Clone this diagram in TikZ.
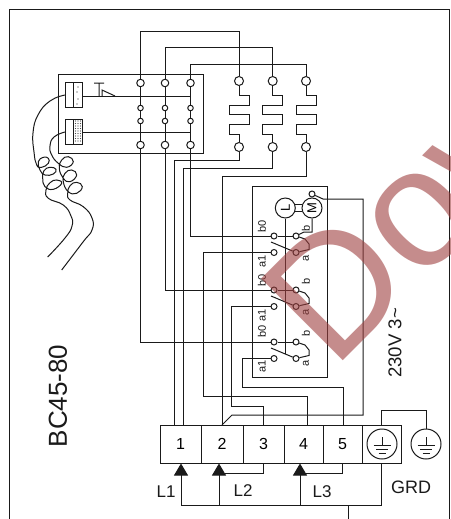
\documentclass[tikz,border=0pt]{standalone}
\usepackage{xcolor}
\usepackage{fontspec}
\setmainfont{Liberation Sans}
\usepackage{tikz}
\usetikzlibrary{calc}
\usetikzlibrary{arrows.meta}
\usetikzlibrary{positioning}
\definecolor{wire}{HTML}{1A1A1A}
\definecolor{stamp}{HTML}{9E3F3F}
\tikzset{>=latex}
\tikzstyle{bigpin} = [draw = wire, circle, fill = white, inner sep = 0, minimum size = 7.5]
\tikzstyle{smallpin} = [draw = wire, circle, fill = white, inner sep = 0, minimum size = 5.5]
\tikzstyle{termbox} = [draw = wire, inner sep = 0, minimum height = 38, font = \fontsize{16}{18}\selectfont]
\tikzstyle{lbl} = [draw = none, inner sep = 0, font = \fontsize{11}{12}\selectfont, rotate = 90, text = wire]
\tikzstyle{biglbl} = [draw = none, inner sep = 0, font = \fontsize{17}{19}\selectfont, text = wire]
\tikzstyle{roundnode} = [draw = wire, circle, inner sep = 0, minimum size = 20, font = \fontsize{13}{14}\selectfont]
\tikzstyle{gndnode} = [draw = wire, circle, inner sep = 0, minimum size = 30]
\begin{document}
\begin{tikzpicture}[x = 1pt, y = -1pt, line width = 1pt, draw = wire]
\useasboundingbox (0, 0) rectangle (450, 519);
\coordinate (fa) at (9, 519);
\coordinate (fb) at (9, 10);
\coordinate (fc) at (449, 10);
\coordinate (fd) at (449, 519);
\draw (fa) -- (fb) -- (fc) -- (fd);

% thermal unit
\node [draw, minimum width = 145, minimum height = 79, inner sep = 0] (unit) at (130.5, 113.5) {};
\node [draw, fill = white, minimum width = 17, minimum height = 25, inner sep = 0] (h1) at (74, 94.5) {};
\node [draw, fill = white, minimum width = 17, minimum height = 25, inner sep = 0] (h2) at (74, 131.5) {};
\draw (73, 82) -- (73, 107) (73, 119) -- (73, 144);
\foreach \p in {(78, 87), (77, 92), (78, 99), (77, 104)}
  \fill [wire] \p circle (0.6);
\foreach \x in {75.5, 78, 80.5}
  \foreach \y in {121, 123.5, ..., 143}
    \fill [wire!80] (\x, \y) circle (0.7);
\coordinate (w1) at (82.5, 96);
\coordinate (w2) at (82.5, 132);
\coordinate (v1) at (190.5, 96);
\coordinate (v2) at (190.5, 132);
\draw (w1) -- (v1);
\draw (w2) -- (v2);
\draw (94, 83) -- (104, 83) (99, 83) -- (99, 96) (102, 96) -- (102, 90) -- (115, 96);

\foreach \c/\x in {1/140.5, 2/165, 3/190.5} {
  \node [bigpin] (a\c) at (\x, 83) {};
  \node [smallpin] (b\c) at (\x, 108) {};
  \node [smallpin] (c\c) at (\x, 121) {};
  \node [bigpin] (d\c) at (\x, 145) {};
  \draw (a\c) -- (b\c) -- (c\c) -- (d\c);
}

% coils
\foreach \c/\x in {1/239, 2/272.7, 3/306} {
  \node [bigpin, minimum size = 9] (e\c) at (\x, 81) {};
  \node [bigpin, minimum size = 9] (f\c) at (\x, 147) {};
  \draw (e\c) -- ++(0, 14) -- ++(10, 0) -- ++(0, 10) -- ++(-20, 0) -- ++(0, 9) -- ++(20, 0) -- ++(0, 10) -- ++(-20, 0) -- ++(0, 10) -- ++(10, 0) -- (f\c);
}
\draw (a1) -- ++(0, -51) -| (e1);
\draw (a2) -- ++(0, -35) -| (e2);
\draw (a3) -- ++(0, -18) -| (e3);

% capillaries
\draw plot [smooth, tension = 0.8] coordinates {(65, 95) (50, 101) (38, 115) (33, 133) (34, 152) (36.7, 165) (41.7, 167.3) (48.3, 163.3) (48.3, 158.3) (43.3, 157.3) (38.3, 161.7) (40, 170) (45, 175) (53.3, 174) (56, 169.3) (50, 167.3) (44, 170.7) (42.7, 178.3) (45, 186.7) (53.3, 189.3) (61.7, 183.3) (56.7, 180) (50, 182.7) (46, 190) (48.3, 198.3) (63.3, 205) (71, 216) (72, 226) (65, 238) (47.7, 257)};
\draw plot [smooth, tension = 0.8] coordinates {(65, 132) (54, 137) (50, 146) (51.7, 155) (58.3, 163.3) (66.7, 167.3) (73.3, 161.7) (68.3, 156.7) (61.7, 160) (59.3, 168.3) (63.3, 178.3) (70, 181.7) (76.7, 175) (71.7, 170) (65, 173.3) (63.3, 181.7) (68.3, 191.7) (76.7, 193.3) (82.3, 186.7) (76.7, 182.3) (70, 185.7) (67.7, 193.3) (70, 200) (83.3, 206.7) (92, 218) (92, 230) (83, 242) (61.7, 270)};

% switch box
\node [draw, minimum width = 75, minimum height = 191, inner sep = 0] (swbox) at (289.5, 281.5) {};
\node [roundnode] (lamp) at (285.3, 208) {\rotatebox{90}{L}};
\node [roundnode] (motor) at (312, 208) {\rotatebox{90}{M}};
\node [smallpin, minimum size = 6] (mtop) at (312, 194) {};
\draw (lamp.18) -- (motor.162);
\draw (lamp.-18) -- (motor.-162);
\foreach \s/\y in {1/236, 2/290, 3/342} {
  \node [smallpin, minimum size = 6] (s\s b0) at (274, \y) {};
  \node [smallpin, minimum size = 6] (s\s a1) at (274, \y + 16.5) {};
  \node [smallpin, minimum size = 6] (s\s b) at (296, \y) {};
  \node [smallpin, minimum size = 6] (s\s a) at (296, \y + 16.5) {};
  \coordinate (s\s t) at (271, \y + 6);
  \draw (s\s b0) -- (s\s b);
  \draw (s\s t) -- (s\s a);
  \draw (s\s b) -- ++(9, 3) -- ++(4, 5) -- ++(0, 5.5) -- (s\s a);
}
\coordinate (lampend) at (285.3, 354);
\draw (lamp) -- (lampend);
\draw (motor) -- ++(0, 24) -- ++(-8, 0) -- (s1b);

\node [lbl] (t1) at (262, 226) {b0};
\node [lbl] (t2) at (262, 261) {a1};
\node [lbl] (t3) at (262, 280) {b0};
\node [lbl] (t4) at (262, 315) {a1};
\node [lbl] (t5) at (262, 331) {b0};
\node [lbl] (t6) at (262, 366) {a1};
\node [lbl] (t7) at (306, 228) {b};
\node [lbl] (t8) at (306, 258) {a};
\node [lbl] (t9) at (306, 281) {b};
\node [lbl] (t10) at (306, 312) {a};
\node [lbl] (t11) at (306, 333) {b};
\node [lbl] (t12) at (306, 363) {a};

% terminal block
\node [termbox, minimum width = 41] (k1) at (180.5, 444) {1};
\node [termbox, minimum width = 42] (k2) at (222, 444) {2};
\node [termbox, minimum width = 41] (k3) at (263.5, 444) {3};
\node [termbox, minimum width = 39] (k4) at (303.5, 444) {4};
\node [termbox, minimum width = 39] (k5) at (342.5, 444) {5};
\node [termbox, minimum width = 39] (k6) at (381.5, 444) {};
\node [gndnode] (g1) at (382, 444) {};
\node [gndnode] (g2) at (426, 444) {};
\foreach \g in {g1, g2}
  \draw [shift = {(\g)}] (0, -7) -- (0, 1) (-8.5, 1) -- (8.5, 1) (-6, 5) -- (6, 5) (-3.5, 9) -- (3.5, 9);
\draw (k6.north) -- ++(0, -14) -| (g2);

\coordinate (p1) at (174, 425);
\coordinate (p2) at (183, 425);
\coordinate (p3) at (222, 425);
\coordinate (p4) at (263, 425);
\coordinate (p5) at (307, 425);
\coordinate (p6) at (343, 425);
\coordinate (p7) at (232, 415);
\draw (f1) -- ++(0, 13.7) -| (p1);
\draw (f2) -- ++(0, 21) -| (p2);
\draw (f3) -- ++(0, 29) -| (p3);
\draw (d1) |- (s3b0);
\draw (d2) |- (s2b0);
\draw (d3) |- (s1b0);
\draw (s1a1) -- ++(-71, 0) |- ++(104, 144) -- (p5);
\draw (s2a1) -- ++(-43, 0) |- ++(32, 100) -- (p4);
\draw (s3a1) -- ++(-32, 0) |- ++(101, 29) -- (p6);
\draw (mtop) -- ++(11, 5) -- ++(40, 0) |- (p7) -- (p3);

% supply
\coordinate (q1) at (181, 463.5);
\coordinate (q2) at (219, 463.5);
\coordinate (q3) at (300, 463.5);
\coordinate (r1) at (181, 505);
\coordinate (r2) at (219, 505);
\coordinate (r3) at (300, 505);
\coordinate (r4) at (348, 505);
\coordinate (r5) at (348, 519);
\coordinate (l2) at (219, 473);
\coordinate (l3) at (300, 473);
\draw [-{Triangle[length = 12, width = 14]}] (r1) -- (q1);
\draw [-{Triangle[length = 12, width = 14]}] (r2) -- (q2);
\draw [-{Triangle[length = 12, width = 14]}] (r3) -- (q3);
\draw (r1) -| (k6.south);
\draw (r4) -- (r5);
\draw (l2) -| (k3.south);
\draw (l3) -| (k5.south);

\node [biglbl] (n1) at (166, 492) {L1};
\node [biglbl] (n2) at (243, 491) {L2};
\node [biglbl] (n3) at (322, 492) {L3};
\node [biglbl, font = \fontsize{18}{20}\selectfont] (n4) at (411, 487) {GRD};
\node [biglbl, font = \fontsize{26}{28}\selectfont, rotate = 90] (n5) at (58, 396) {BC45-80};
\node [biglbl, font = \fontsize{18.6}{20}\selectfont, rotate = 90] (n6) at (395, 343) {230V 3\char"007E};

% stamp over everything
\node [draw = none, inner sep = 0, anchor = base west, rotate = 45, font = \fontsize{168}{170}\selectfont, text = stamp, text opacity = 0.6] (mark) at (333.5, 371) {Dow};
\end{tikzpicture}
\end{document}
